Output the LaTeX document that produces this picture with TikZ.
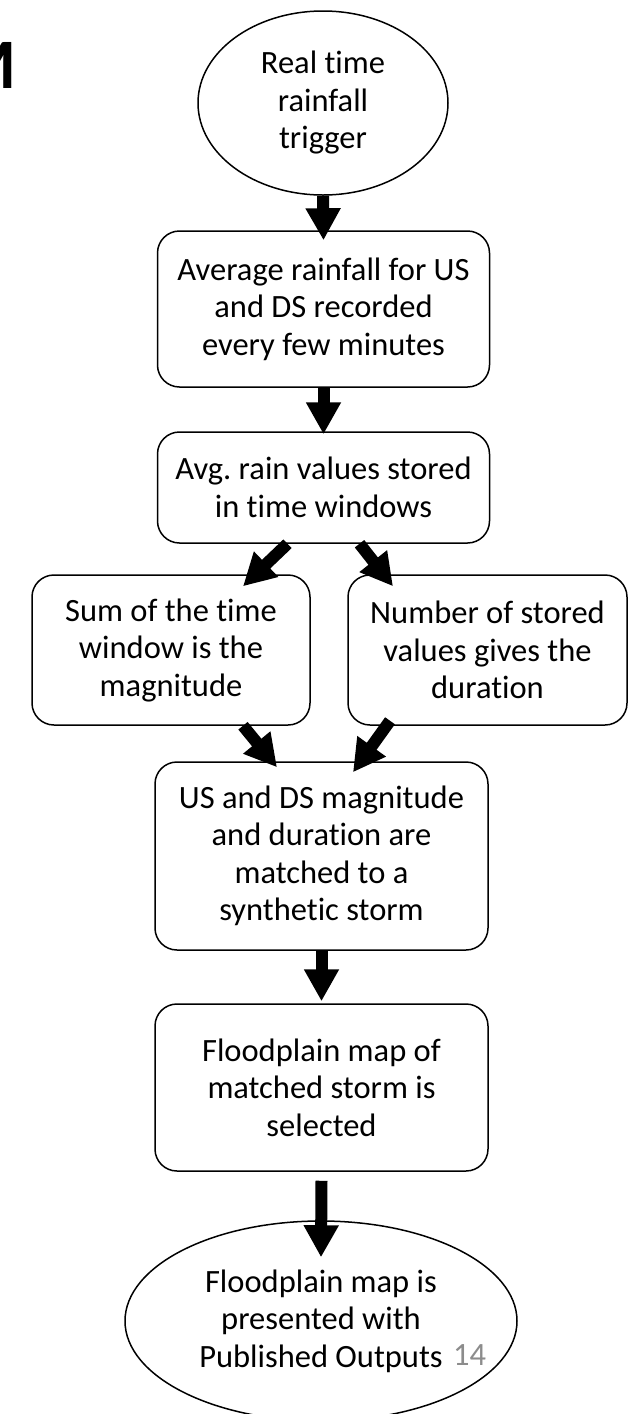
\documentclass[tikz,border=0pt]{standalone}
\usepackage{fontspec}
\setmainfont[Ligatures=NoCommon]{Carlito}
\usetikzlibrary{arrows.meta,shapes.geometric}
\definecolor{pagegray}{HTML}{8C8C8C}
\frenchspacing
\begin{document}
\begin{tikzpicture}[x=1pt,y=-1pt,
  txt/.style={font=\fontsize{32.5}{37.5}\selectfont, align=center},
  box/.style={txt, draw, line width=1.5pt, rounded corners=22pt, inner sep=0pt},
  oval/.style={txt, draw, ellipse, line width=1.5pt, inner sep=0pt},
  fat/.style={line width=12pt, -{Triangle[width=33pt,length=32pt]}}]
\useasboundingbox (0,0) rectangle (629,1414);
% cut-off title letter
\node[font=\fontsize{71}{71}\selectfont\bfseries, anchor=base east, inner sep=0pt] (title) at (17,88) {M};
% nodes
\node[oval, minimum width=250pt, minimum height=184pt] (e1) at (323,103) {Real time\\rainfall\\trigger};
\node[box, minimum width=332pt, minimum height=156pt] (b2) at (323.5,309) {Average rainfall for US\\and DS recorded\\every few minutes};
\node[box, minimum width=332pt, minimum height=111pt] (b3) at (323.5,487.5) {Avg. rain values stored\\in time windows};
\node[box, minimum width=278pt, minimum height=150pt] (bl) at (171,650) {Sum of the time\\window is the\\magnitude};
\node[box, minimum width=279pt, minimum height=150pt] (br) at (487.5,650) {Number of stored\\values gives the\\duration};
\node[box, minimum width=333pt, minimum height=188pt] (b5) at (321.5,856) {US and DS magnitude\\and duration are\\matched to a\\synthetic storm};
\node[box, minimum width=333pt, minimum height=167pt] (b6) at (321.5,1087.5) {Floodplain map of\\matched storm is\\selected};
\node[oval, minimum width=392pt, minimum height=200pt] (e2) at (321,1321) {Floodplain map is\\presented with\\Published Outputs};
\node[txt, text=pagegray, anchor=base west, inner sep=0pt] (pg) at (453,1365) {14};
% connectors
\draw[fat] (e1.south) -- ([yshift=-10pt]b2.north);
\draw[fat] (b2.south) -- ([yshift=-3pt]b3.north);
\draw[fat] ([xshift=-36pt]b3.south) -- ([xshift=72pt,yshift=-12pt]bl.north);
\draw[fat] ([xshift=36pt]b3.south) -- ([xshift=-94.5pt,yshift=-12pt]br.north);
\draw[fat] ([xshift=72pt]bl.south) -- ([xshift=-44.5pt,yshift=-6pt]b5.north);
\draw[fat] ([xshift=-97.5pt,yshift=5pt]br.south) -- ([xshift=31.5pt,yshift=-11pt]b5.north);
\draw[fat] (b5.south) -- ([yshift=2pt]b6.north);
\draw[fat] ([yshift=-9pt]b6.south) -- ([yshift=-37pt]e2.north);
\end{tikzpicture}
\end{document}
